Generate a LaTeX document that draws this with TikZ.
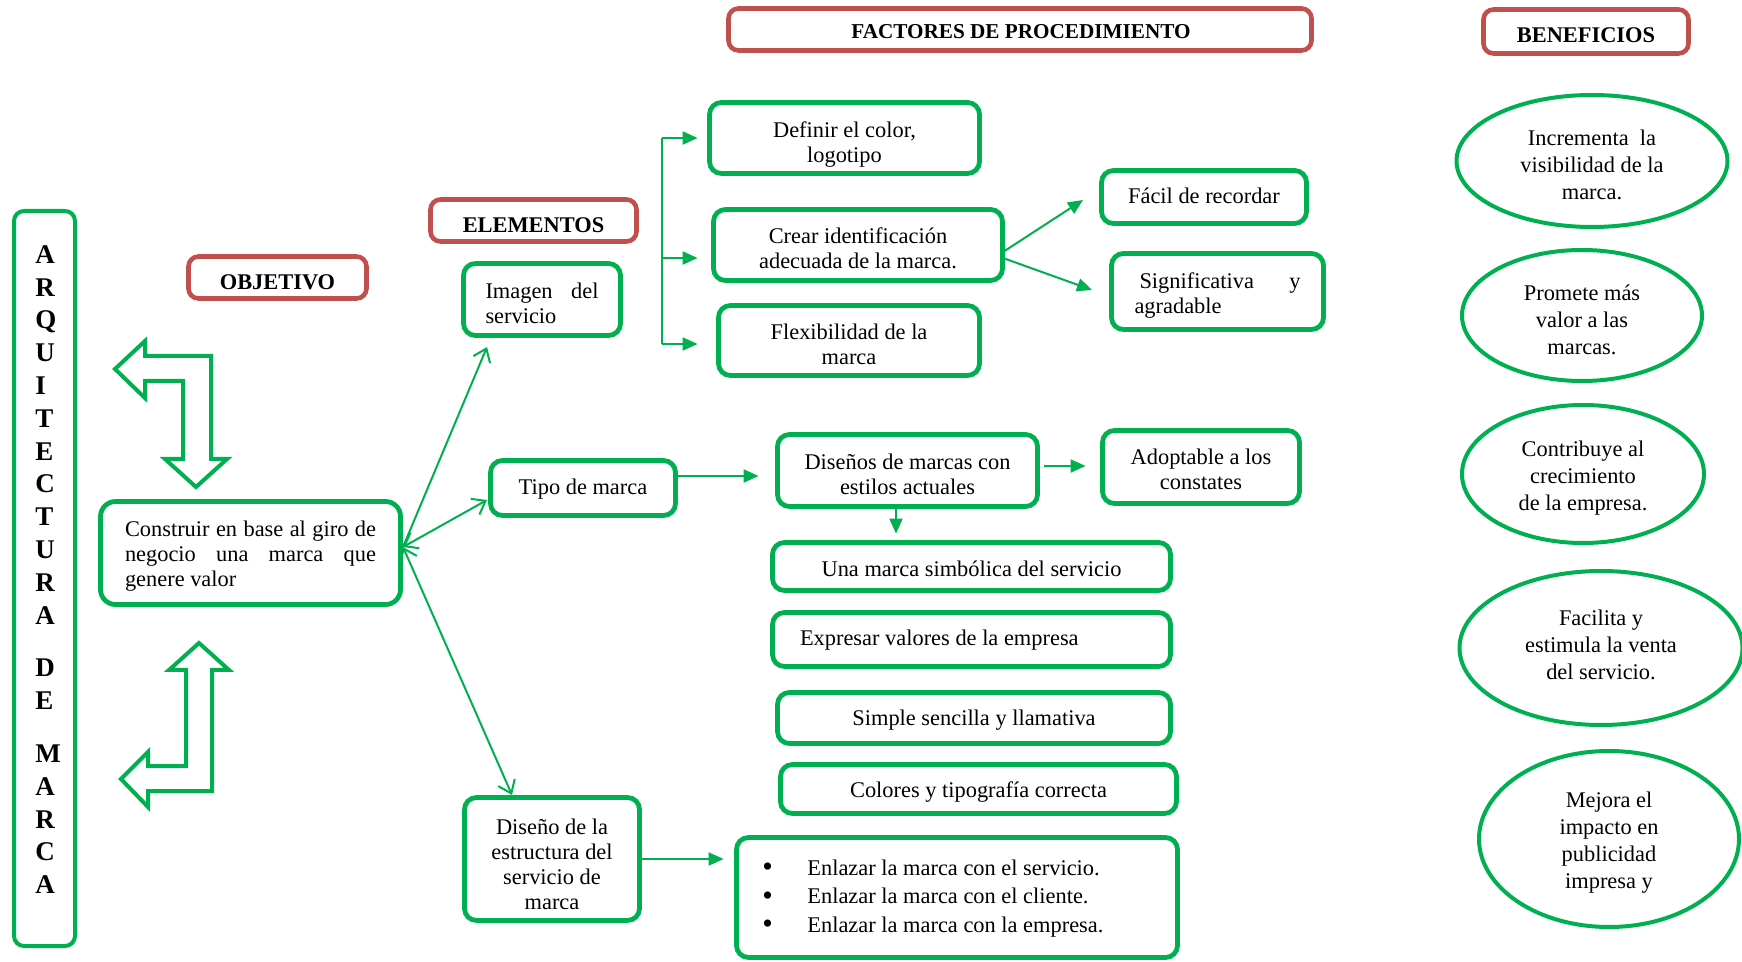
\documentclass[tikz,border=0pt]{standalone}
\usepackage{fontspec}
\setmainfont{Liberation Serif}
\usetikzlibrary{arrows.meta,shapes.geometric}
\definecolor{grn}{HTML}{00B050}
\definecolor{redc}{HTML}{C0504D}
\newcommand{\fsz}{\fontsize{11.2}{12.5}\selectfont}
\newcommand{\fse}{\fontsize{11.2}{13.5}\selectfont}
\newcommand{\fsh}{\bfseries\fontsize{11.2}{13}\selectfont}
\newcommand{\jl}[2]{\leavevmode\hbox to #1{#2}}
\newcommand{\bul}{\makebox[22.5pt][l]{\fontsize{15}{14.25}\selectfont\raisebox{-0.8pt}{•}}}
\tikzset{
  gbox/.style={draw=grn, line width=2.4pt, rounded corners=6pt, inner sep=0pt},
  rbox/.style={draw=redc, line width=2.3pt, rounded corners=5pt, inner sep=0pt},
  ell/.style={ellipse, draw=grn, line width=2pt, inner sep=0pt},
  txt/.style={font=\fsz, align=center, inner sep=0pt},
  etxt/.style={font=\fse, align=center, inner sep=0pt},
  hdr/.style={font=\fsh, inner sep=0pt},
  ln/.style={draw=grn, line width=1pt},
  arr/.style={draw=grn, line width=1pt, -{Triangle[length=7.5pt,width=6.5pt]}},
  oarr/.style={draw=grn, line width=1pt, -{Straight Barb[length=6pt,width=9pt]}},
  oarrb/.style={draw=grn, line width=1pt, {Straight Barb[length=6pt,width=9pt]}-{Straight Barb[length=6pt,width=9pt]}},
  blk/.style={draw=grn, line width=2pt, line join=miter, fill=white},
}
\begin{document}
\begin{tikzpicture}[x=0.5pt,y=-0.5pt]
\useasboundingbox (0,0) rectangle (1742,962);
\fill[white] (0,0) rectangle (1742,962);

% vertical title box
\node[gbox, rounded corners=5pt, line width=2pt, minimum width=30.5pt, minimum height=367.5pt] (arq) at (44.5,578.5) {};
\node[font=\bfseries\fontsize{13.5}{16.4}\selectfont, align=left, anchor=west, inner sep=0pt] (arqt) at (35,569.5)
  {A\\R\\Q\\U\\I\\T\\E\\C\\T\\U\\R\\A\\[10pt]D\\E\\[10pt]M\\A\\R\\C\\A};

% headers
\node[rbox, minimum width=89pt, minimum height=21pt] (obj) at (277.5,277.5) {};
\node[hdr] (objt) at (277.5,282) {OBJETIVO};
\node[rbox, minimum width=103pt, minimum height=21pt] (ele) at (533.5,220.5) {};
\node[hdr] (elet) at (533.5,225) {ELEMENTOS};
\node[rbox, minimum width=291.5pt, minimum height=21pt] (fac) at (1020,29.5) {};
\node[hdr, font=\bfseries\fontsize{10.6}{13}\selectfont] (fact) at (1021,32) {FACTORES DE PROCEDIMIENTO};
\node[rbox, minimum width=102.5pt, minimum height=22pt] (ben) at (1586,31.5) {};
\node[hdr] (bent) at (1586,35) {BENEFICIOS};

% block arrows
\draw[blk] (115,369) -- (145,341) -- (145,356) -- (211,356) -- (211,459) -- (227,459) -- (196,487)
  -- (165,459) -- (183,459) -- (183,381) -- (145,381) -- (145,398) -- cycle;
\draw[blk] (199,643) -- (229,670) -- (212,670) -- (212,791) -- (148,791) -- (148,807) -- (121,779)
  -- (148,752) -- (148,766) -- (186,766) -- (186,670) -- (169,670) -- cycle;

% main boxes
\node[gbox, rounded corners=7.5pt, minimum width=150pt, minimum height=51.5pt] (cons) at (250.5,553) {};
\node[txt, text width=125.5pt, align=flush left] (const) at (250.5,556.5)
  {\jl{125.5pt}{Construir\hfill en\hfill base\hfill al\hfill giro\hfill de}\\\jl{125.5pt}{negocio\hfill una\hfill marca\hfill que}\\genere valor};
\node[gbox, minimum width=78.5pt, minimum height=36pt] (img) at (542,299.5) {};
\node[txt, text width=56.5pt, align=flush left] (imgt) at (542,303) {\jl{56.5pt}{Imagen\hfill del}\\servicio};
\node[gbox, minimum width=135pt, minimum height=35.5pt] (def) at (844.5,138) {};
\node[txt] (deft) at (844.5,144.5) {Definir el color,\\logotipo};
\node[gbox, minimum width=144.5pt, minimum height=35.5pt] (cre) at (858,245) {};
\node[txt] (cret) at (858,248) {Crear identificación\\adecuada de la marca.};
\node[gbox, minimum width=130.5pt, minimum height=35pt] (flx) at (849,340.5) {};
\node[txt] (flxt) at (849,344) {Flexibilidad de la\\marca};
\node[gbox, minimum width=102.5pt, minimum height=26.5pt] (fac1) at (1204,197) {};
\node[txt] (fac1t) at (1204,196) {Fácil de recordar};
\node[gbox, minimum width=106pt, minimum height=38pt] (sig) at (1217.5,291.5) {};
\node[txt, text width=83pt, align=flush left] (sigt) at (1217.5,295.5) {\jl{83pt}{\hspace{2.5pt}Significativa\hfill y}\\agradable};
\node[gbox, minimum width=92.5pt, minimum height=27.5pt] (tip) at (583,488) {};
\node[txt] (tipt) at (583,489) {Tipo de marca};
\node[gbox, minimum width=130pt, minimum height=36pt] (dis) at (907.5,470.5) {};
\node[txt] (dist) at (907.5,474) {Diseños de marcas con\\estilos actuales};
\node[gbox, minimum width=98.5pt, minimum height=36.5pt] (ado) at (1201,467) {};
\node[txt] (adot) at (1201,469.5) {Adoptable a los\\constates};
\node[gbox, minimum width=199pt, minimum height=24pt] (una) at (971.5,566.5) {};
\node[txt] (unat) at (971.5,568.5) {Una marca simbólica del servicio};
\node[gbox, minimum width=199pt, minimum height=27pt] (exp) at (971.5,639.5) {};
\node[txt, text width=171.5pt, align=flush left] (expt) at (971.5,640.5) {Expresar valores de la empresa};
\node[gbox, minimum width=196.5pt, minimum height=25.5pt] (sim) at (974,718) {};
\node[txt] (simt) at (974,720) {Simple sencilla y llamativa};
\node[gbox, minimum width=198pt, minimum height=24.5pt] (col) at (978.5,789) {};
\node[txt] (colt) at (978.5,792) {Colores y tipografía correcta};
\node[gbox, minimum width=87.5pt, minimum height=61.5pt] (dse) at (552,859) {};
\node[txt] (dset) at (552,864.5) {Diseño de la\\estructura del\\servicio de\\marca};
\node[gbox, minimum width=220.5pt, minimum height=60pt] (enl) at (957,897.5) {};
\node[font=\fontsize{11.2}{14.25}\selectfont, align=flush left, anchor=west, inner sep=0pt] (enlt) at (762,898.5)
  {\bul Enlazar la marca con el servicio.\\
   \bul Enlazar la marca con el cliente.\\
   \bul Enlazar la marca con la empresa.};

% benefits
\node[ell, minimum width=135.5pt, minimum height=66pt] (be1) at (1592,161) {};
\node[etxt] (be1t) at (1592,165) {Incrementa\ \ la\\visibilidad de la\\marca.};
\node[ell, minimum width=120pt, minimum height=65.5pt] (be2) at (1582,315.5) {};
\node[etxt] (be2t) at (1582,319.5) {Promete más\\valor a las\\marcas.};
\node[ell, minimum width=121pt, minimum height=69pt] (be3) at (1583,474) {};
\node[etxt] (be3t) at (1583,478) {Contribuye al\\crecimiento\\de la empresa.};
\node[ell, minimum width=141.5pt, minimum height=77pt] (be4) at (1601,648) {};
\node[etxt] (be4t) at (1601,645) {Facilita y\\estimula la venta\\del servicio.};
\node[ell, minimum width=130pt, minimum height=88pt] (be5) at (1609,839) {};
\node[etxt] (be5t) at (1609,843) {Mejora el\\impacto en\\publicidad\\impresa y};

% connectors
\coordinate (hub) at (403,547);
\coordinate (hi) at (487,347);
\coordinate (ht) at (487,500);
\coordinate (hd) at (512,795);
\draw[oarr] (hub) -- (hi);
\draw[oarrb] (hub) -- (ht);
\draw[oarrb] (hub) -- (hd);

\coordinate (b1) at (662,138);
\coordinate (b2) at (662,258);
\coordinate (b3) at (662,344);
\draw[ln] (b1) -- (b3);
\draw[arr, shorten >=4.75pt] (b1) -- (b1 -| def.west);
\draw[arr, shorten >=6.75pt] (b2) -- (b2 -| cre.west);
\draw[arr, shorten >=9.25pt] (b3) -- (b3 -| flx.west);

\coordinate (c1) at (1003,252);
\coordinate (f1) at (1083,200);
\coordinate (c2) at (1003,258);
\coordinate (s1) at (1092,290);
\draw[arr] (c1) -- (f1);
\draw[arr] (c2) -- (s1);

\coordinate (t1) at (676,476);
\draw[arr, shorten >=8.25pt] (t1) -- (t1 -| dis.west);
\coordinate (d1) at (1044,466);
\draw[arr, shorten >=7.25pt] (d1) -- (d1 -| ado.west);
\coordinate (d2) at (896,507);
\draw[arr, shorten >=3.25pt] (d2) -- (d2 |- una.north);
\draw[arr, shorten >=5.25pt] (dse.east) -- (dse.east -| enl.west);
\end{tikzpicture}
\end{document}
